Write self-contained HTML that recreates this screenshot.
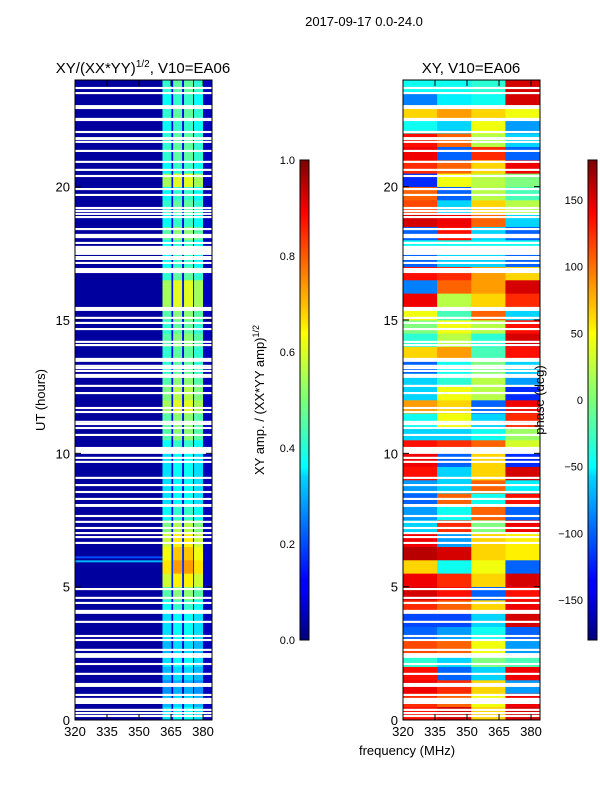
<!DOCTYPE html>
<html><head><meta charset="utf-8"><style>
body{margin:0;background:#fff;}
svg{display:block;font-family:"Liberation Sans",sans-serif;}
</style></head><body>
<svg id="fig" width="600" height="800" viewBox="0 0 600 800">
<defs>
<linearGradient id="jet" x1="0" y1="1" x2="0" y2="0">
<stop offset="0" stop-color="#00007f"/><stop offset="0.11" stop-color="#0000ff"/><stop offset="0.125" stop-color="#0000ff"/>
<stop offset="0.34" stop-color="#00d4ff"/><stop offset="0.36" stop-color="#0ff"/><stop offset="0.5" stop-color="#7dff7a"/>
<stop offset="0.64" stop-color="#ff0"/><stop offset="0.66" stop-color="#ffe600"/><stop offset="0.89" stop-color="#ff0000"/><stop offset="1" stop-color="#7f0000"/>
</linearGradient>
</defs>
<text x="364" y="26" font-size="13" text-anchor="middle">2017-09-17 0.0-24.0</text>
<text x="143" y="73" font-size="15" text-anchor="middle">XY/(XX*YY)<tspan font-size="10" dy="-6">1/2</tspan><tspan dy="6">, V10=EA06</tspan></text>
<text x="471" y="73" font-size="15" text-anchor="middle">XY, V10=EA06</text>
<g id="ampPlot"></g>
<g id="phasePlot"></g>
<g id="axes"></g>
<text transform="translate(45,400) rotate(-90)" font-size="13" text-anchor="middle">UT (hours)</text>
<text x="407" y="755" font-size="13" text-anchor="middle">frequency (MHz)</text>
<rect x="300" y="160" width="9" height="480" fill="url(#jet)" stroke="#000" stroke-width="1"/>
<rect x="588" y="160" width="9" height="480" fill="url(#jet)" stroke="#000" stroke-width="1"/>
<text transform="translate(264,400) rotate(-90)" font-size="13" text-anchor="middle">XY amp. / (XX*YY amp)<tspan font-size="9" dy="-5">1/2</tspan></text>
<text transform="translate(544,400) rotate(-90)" font-size="13" text-anchor="middle">phase (deg)</text>
</svg>
<script>
// ---- data ----
const freqEdges=[320,361,365.2,366,370.2,371.1,375.3,375.8,380,384.2];
const colBase=[0.03,0.9,0.25,1.0,0.25,1.0,0.25,0.9,0.06];
const rowAmp=[0.45,0.4,0.35,0.4,0.45,0.4,0.45,0.45,0.5,0.6,0.75,0.85,0.8,0.75,0.65,0.5,0.45,0.45,0.45,0.45,0.5,0.6,0.6,0.7,
0.65,0.6,0.55,0.55,0.6,0.55,0.6,0.7,0.7,0.55,0.5,0.5,0.6,0.5,0.55,0.5,0.7,0.5,0.55,0.55,0.5,0.55,0.5,0.55];
const stripeTimes=[5.95,6.1];
const stripeVals=[0.3,0.2];
const phaseFreqEdges=[320,336,352,368,384.2];
const phaseRows=[[130,150,60,150],[120,100,40,140],[140,120,60,-80],[130,-100,-60,140],[-30,-60,0,-20],[110,100,40,-80],[-100,-80,-40,-100],[-110,-110,-60,150],
[120,100,60,140],[150,130,-100,130],[140,120,60,150],[60,-40,40,-100],[160,150,60,50],[140,-80,60,50],[-60,120,0,140],[-80,-40,100,-100],
[-100,100,-40,130],[-80,-60,100,-50],[130,-60,60,150],[140,-100,60,-120],[130,120,100,30],[-60,-60,-40,10],[-40,40,-60,120],[80,60,-100,140],
[-60,40,20,-120],[-60,-30,20,-80],[-100,-40,0,-60],[60,80,-20,130],[-30,20,-30,150],[0,40,20,130],[40,-20,100,-60],[140,20,60,120],
[-90,100,80,150],[130,120,80,60],[-100,-60,-60,-100],[-40,-40,-40,-40],[-100,130,-60,-100],[150,140,100,-60],[110,-60,60,20],[100,-100,20,-20],
[-120,40,20,0],[120,100,60,140],[140,-100,120,-100],[130,100,20,-60],[-40,-60,40,-80],[60,80,60,40],[-90,-50,-40,150],[-40,-40,-30,150]];
const gapStart=[23.66,23.47,22.91,22.46,22.01,21.75,21.64,21.30,20.89,20.59,20.36,19.87,19.65,19.16,19.05,18.94,18.82,18.37,18.15,18.07,17.85,17.44,17.32,17.25,17.10,16.76,15.41,15.34,15.04,14.85,14.62,14.14,14.02,13.43,13.24,13.16,13.05,12.83,12.49,12.22,
11.66,11.51,11.14,11.06,10.91,10.65,9.98,9.79,9.64,9.04,8.77,8.51,8.25,7.99,7.61,7.39,7.16,6.97,6.82,6.60,4.87,4.54,4.35,3.98,3.64,3.11,2.96,2.59,2.33,2.06,1.69,1.31,1.24,0.90,0.60,0.34,0.22,0.11];
const gapEnd=[23.74,23.55,23.06,22.58,22.09,21.86,21.72,21.38,20.97,20.67,20.44,19.95,19.73,19.24,19.13,19.02,18.90,18.45,18.23,18.15,17.93,17.78,17.40,17.33,17.18,16.95,15.49,15.42,15.12,14.93,14.70,14.22,14.10,13.58,13.32,13.24,13.13,12.98,12.57,12.30,
11.74,11.59,11.22,11.14,10.99,10.73,10.24,9.87,9.72,9.12,8.85,8.59,8.33,8.10,7.69,7.47,7.24,7.05,6.90,6.68,4.95,4.62,4.43,4.13,3.72,3.19,3.04,2.67,2.51,2.14,1.77,1.39,1.32,0.98,0.83,0.42,0.30,0.19];
const xTicks=[320,335,350,365,380];
const yTicks=[0,5,10,15,20];
const ampTicks=[0,0.2,0.4,0.6,0.8,1.0];
const phaseTicks=[-150,-100,-50,0,50,100,150];
// ---- scales ----
const NS='http://www.w3.org/2000/svg';
const yT=t=>720-t*(640/24);
const xL=f=>75+(f-320)*(137/64.2);
const xR=f=>403+(f-320)*(137/64.2);
function jet(v){v=Math.max(0,Math.min(1,v));
 const r=Math.max(0,Math.min(1,1.5-Math.abs(4*v-3))),g=Math.max(0,Math.min(1,1.5-Math.abs(4*v-2))),b=Math.max(0,Math.min(1,1.5-Math.abs(4*v-1)));
 return 'rgb('+Math.round(r*255)+','+Math.round(g*255)+','+Math.round(b*255)+')';}
function mk(tag,attrs,parent){const e=document.createElementNS(NS,tag);for(const k in attrs)e.setAttribute(k,attrs[k]);parent.appendChild(e);return e;}
const amp=document.getElementById('ampPlot'),ph=document.getElementById('phasePlot'),ax=document.getElementById('axes');
const dt=24/rowAmp.length;
for(let r=0;r<rowAmp.length;r++){
 for(let c=0;c<colBase.length;c++){
  const v=c===0||c===colBase.length-1?colBase[c]:colBase[c]*rowAmp[r]*0.85;
  const e=mk('rect',{x:xL(freqEdges[c]),y:yT((r+1)*dt),width:xL(freqEdges[c+1])-xL(freqEdges[c])+0.3,height:yT(r*dt)-yT((r+1)*dt)+0.3,fill:jet(v)},amp);
  
  
 }
}
for(let i=0;i<stripeTimes.length;i++){
 const e=mk('rect',{x:xL(320),y:yT(stripeTimes[i])-1,width:xL(361)-xL(320),height:2,fill:jet(stripeVals[i])},amp);
 
 
}
const pdt=24/phaseRows.length;
for(let r=0;r<phaseRows.length;r++){
 for(let c=0;c<phaseRows[r].length;c++){
  const e=mk('rect',{x:xR(phaseFreqEdges[c]),y:yT((r+1)*pdt),width:xR(phaseFreqEdges[c+1])-xR(phaseFreqEdges[c])+0.3,height:yT(r*pdt)-yT((r+1)*pdt)+0.3,fill:jet((phaseRows[r][c]+180)/360)},ph);
  
  
 }
}
for(let i=0;i<gapStart.length;i++){
 for(const [g,xf] of [[amp,xL],[ph,xR]]){
  const e=mk('rect',{x:xf(320),y:yT(gapEnd[i]),width:137,height:yT(gapStart[i])-yT(gapEnd[i]),fill:'#fff'},g);
  
  
 }
}
// axes frames and ticks
for(const [x0,xf] of [[75,xL],[403,xR]]){
 const f=mk('rect',{x:x0,y:80,width:137,height:640,fill:'none',stroke:'#000','stroke-width':1},ax);
 
 
 for(const t of xTicks){
  const x=xf(t);
  mk('line',{x1:x,x2:x,y1:720,y2:714,stroke:'#000'},ax);
  mk('line',{x1:x,x2:x,y1:80,y2:86,stroke:'#000'},ax);
  const l=mk('text',{x:x,y:736,'font-size':13,'text-anchor':'middle'},ax);
  l.textContent=t;
  
  
 }
 for(const t of yTicks){
  const y=yT(t);
  mk('line',{x1:x0,x2:x0+6,y1:y,y2:y,stroke:'#000'},ax);
  mk('line',{x1:x0+137,x2:x0+131,y1:y,y2:y,stroke:'#000'},ax);
  const l=mk('text',{x:x0-5,y:y+5,'font-size':13,'text-anchor':'end'},ax);
  l.textContent=t;
  
  
 }
}
for(const t of ampTicks){
 const y=640-t*480;
 mk('line',{x1:300,x2:309,y1:y,y2:y,stroke:'#000'},ax);
 const l=mk('text',{x:295,y:y+4,'font-size':11,'text-anchor':'end'},ax);
 l.textContent=t.toFixed(1);
 
 
}
for(const t of phaseTicks){
 const y=400-t*(480/360);
 mk('line',{x1:588,x2:597,y1:y,y2:y,stroke:'#000'},ax);
 const l=mk('text',{x:583,y:y+4,'font-size':11,'text-anchor':'end'},ax);
 l.textContent=t<0?'\u2212'+(-t):t;
 
 
}
</script>
</body></html>
